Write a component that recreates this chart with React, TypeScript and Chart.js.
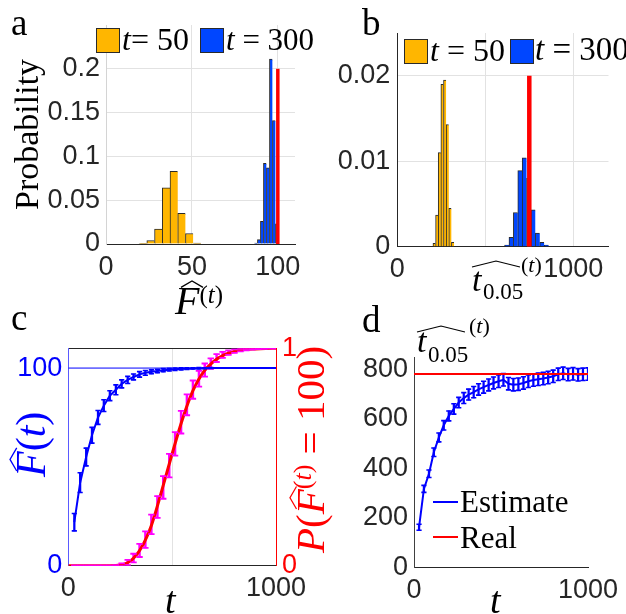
import React, { useEffect, useRef } from 'react';
import { Chart, registerables } from 'chart.js';

Chart.register(...registerables);

// ---------------- data ----------------
// panel a: histogram of F-hat
const A_T50_BINS = [21.5, 26, 30.5, 35, 39.5, 44, 48.5, 53];
const A_T50_PROB = [0.0008, 0.004, 0.017, 0.064, 0.083, 0.035, 0.012, 0.001];
const A_T300_BINS = [87.25, 89, 90.75, 92.5, 94.25, 96, 97.75, 99.5];
const A_T300_PROB = [0.001, 0.005, 0.026, 0.092, 0.087, 0.211, 0.141, 0.023];
const A_TRUE_F = 100;
const A_TRUE_H = 0.2;
const A_X_TICKS = [0, 50, 100];
const A_Y_TICKS = [0, 0.05, 0.1, 0.15, 0.2];

// panel b: histogram of t0.05-hat
const B_T50_BINS = [210, 225, 240, 255, 270, 285, 300, 315];
const B_T50_PROB = [0.0004, 0.0037, 0.011, 0.019, 0.0195, 0.0143, 0.0045, 0.0005];
const B_T300_BINS = [622, 647, 672, 697, 722, 747, 772, 797, 822, 847];
const B_T300_PROB = [0.0002, 0.0011, 0.004, 0.0089, 0.0104, 0.008, 0.0043, 0.0016, 0.0005, 0.0002];
const B_TRUE_T = 750;
const B_TRUE_H = 0.02;
const B_X_TICKS = [0, 500, 1000];
const B_Y_TICKS = [0, 0.01, 0.02];

// panels c, d: time points
const T = [29, 57, 86, 114, 143, 171, 200, 229, 257, 286, 314, 343, 371, 400, 429, 457, 486, 514, 543, 571, 600, 629, 657, 686, 714, 743, 771, 800, 829, 857, 886, 914, 943, 971, 1000];

// panel c
const C_F_MEAN = [22, 42, 55, 66, 75, 81, 86, 89, 92, 94, 95.5, 96.8, 97.6, 98.1, 98.5, 98.9, 99.2, 99.4, 99.6, 99.7, 99.8, 99.9, 99.9, 100, 100, 100, 100, 100, 100, 100, 100, 100, 100, 100, 100];
const C_F_ERR = [4.4, 5, 4.5, 4, 3.5, 3, 2.5, 2.5, 2, 1.8, 1.5, 1.4, 1.2, 1, 0.9, 0.8, 0.7, 0.6, 0.5, 0.4, 0.3, 0.3, 0.2, 0.2, 0.1, 0.1, 0, 0, 0, 0, 0, 0, 0, 0, 0];
const C_P_MEAN = [0, 0, 0, 0, 0, 0, 0, 0.001, 0.005, 0.015, 0.035, 0.07, 0.12, 0.19, 0.27, 0.36, 0.46, 0.56, 0.66, 0.74, 0.81, 0.86, 0.9, 0.93, 0.955, 0.97, 0.98, 0.987, 0.992, 0.995, 0.997, 0.998, 0.999, 1, 1];
const C_P_ERR = [0, 0, 0, 0, 0, 0, 0, 0.002, 0.006, 0.012, 0.02, 0.03, 0.038, 0.045, 0.05, 0.052, 0.054, 0.054, 0.052, 0.048, 0.042, 0.036, 0.03, 0.024, 0.018, 0.014, 0.01, 0.008, 0.006, 0.004, 0.003, 0.002, 0.001, 0, 0];
const C_CURVE_T = [0, 50, 100, 150, 200, 250, 300, 350, 400, 450, 500, 550, 600, 650, 700, 750, 800, 850, 900, 950, 1000];
const C_CURVE_P = [0, 0, 0, 0, 0, 0.003, 0.022, 0.08, 0.185, 0.345, 0.515, 0.675, 0.805, 0.89, 0.94, 0.97, 0.986, 0.994, 0.997, 0.999, 1];
const C_F_LEVEL = 100;

// panel d
const D_MEAN = [162, 317, 378, 465, 525, 574, 612, 640, 666, 684, 698, 708, 719, 728, 737, 745, 752, 758, 742, 738, 740, 745, 752, 757, 760, 763, 767, 772, 780, 784, 779, 782, 778, 780, 781];
const D_ERR = [12, 14, 15, 17, 18, 19, 20, 21, 21, 22, 22, 23, 23, 24, 24, 24, 25, 25, 25, 25, 25, 25, 25, 25, 25, 25, 25, 25, 25, 25, 25, 25, 25, 25, 25];
const D_REAL = 781;
const D_Y_TICKS = [0, 200, 400, 600, 800];

// ---------------- styles ----------------
const INK = '#262626';
const GRID = '#e2e2e2';
const EDGE = '#2a2a2a';
const YELLOW = '#ffb600';
const BLUE_BAR = '#0046ff';
const BLUE = '#0000ff';
const RED = '#ff0000';
const MAGENTA = '#ff00ff';
const TICK_FONT = { family: '"Liberation Sans", Arial, Helvetica, sans-serif', size: 27 };
const SERIF = '"Liberation Serif", "Times New Roman", serif';

function ticksAt(values: number[]) {
  return (scale: any) => {
    scale.ticks = values.map((value) => ({ value }));
  };
}
function fixWidth(w: number) {
  return (scale: any) => {
    scale.width = w;
    scale.paddingTop = 0;
    scale.paddingBottom = 0;
  };
}
function fixHeight(h: number) {
  return (scale: any) => {
    scale.height = h;
    scale.paddingLeft = 0;
    scale.paddingRight = 0;
  };
}
const gridAt = (vals: number[], color: string) => (ctx: any) =>
  ctx.tick && vals.includes(ctx.tick.value) ? color : 'rgba(0,0,0,0)';

function baseOptions(padding: any, scales: any) {
  return {
    responsive: false,
    animation: false,
    devicePixelRatio: 1,
    events: [],
    layout: { padding },
    plugins: { legend: { display: false }, tooltip: { enabled: false } },
    scales,
  };
}

function histBars(bins: number[], probs: number[], color: string, axis: string, order: number) {
  return {
    type: 'bar',
    xAxisID: axis,
    yAxisID: 'y',
    data: bins.map((x, i) => ({ x, y: probs[i] })),
    backgroundColor: color,
    borderColor: EDGE,
    borderWidth: { top: 1, left: 1, right: 0, bottom: 0 },
    borderSkipped: false,
    barPercentage: 1,
    categoryPercentage: 1,
    grouped: false,
    order,
  };
}

function errorBars(xs: number[], means: number[], errs: number[], color: string, yAxisID: string, barW: number, capR: number, capW: number, order: number) {
  return [
    {
      type: 'line',
      yAxisID,
      data: xs.flatMap((x, i) => [
        { x, y: means[i] - errs[i] },
        { x, y: means[i] + errs[i] },
      ]),
      showLine: false,
      pointStyle: 'line',
      pointRadius: capR,
      pointBorderWidth: capW,
      pointBorderColor: color,
      pointBackgroundColor: color,
      borderColor: color,
      order,
    },
    {
      type: 'bar',
      yAxisID,
      data: xs.map((x, i) => ({ x, y: [means[i] - errs[i], means[i] + errs[i]] })),
      backgroundColor: color,
      borderWidth: 0,
      barThickness: barW,
      grouped: false,
      order: order + 1,
    },
  ];
}

function histXAxis(min: number, max: number, ticks: number[], gridVals: number[], h: number, labelFn: (v: number) => string) {
  return {
    type: 'linear',
    min,
    max,
    offset: false,
    afterBuildTicks: ticksAt(ticks),
    afterFit: fixHeight(h),
    ticks: { font: TICK_FONT, color: INK, padding: 7, maxRotation: 0, autoSkip: false, callback: (v: number) => labelFn(v) },
    grid: { offset: false, drawTicks: false, color: gridAt(gridVals, GRID) },
    border: { color: INK, width: 1 },
  };
}

function makeA() {
  return {
    type: 'bar',
    data: {
      datasets: [
        { type: 'line', xAxisID: 'x', yAxisID: 'y', data: [{ x: A_TRUE_F, y: 0 }, { x: A_TRUE_F, y: A_TRUE_H }], borderColor: RED, borderWidth: 3.5, pointRadius: 0, borderCapStyle: 'butt', order: 0 },
        histBars(A_T300_BINS, A_T300_PROB, BLUE_BAR, 'xb', 1),
        histBars(A_T50_BINS, A_T50_PROB, YELLOW, 'x', 2),
      ],
    },
    options: baseOptions({ left: 0, right: 15, top: 25, bottom: 0 }, {
      x: histXAxis(0, 110, A_X_TICKS, [50, 100], 56, (v) => String(v)),
      xb: { type: 'linear', display: false, min: 0, max: 110, offset: false, afterBuildTicks: ticksAt(A_X_TICKS) },
      y: {
        min: 0, max: 0.25,
        afterBuildTicks: ticksAt(A_Y_TICKS),
        afterFit: fixWidth(106),
        ticks: { font: TICK_FONT, color: INK, padding: 6, callback: (v: number) => String(v) },
        grid: { drawTicks: false, color: gridAt([0.05, 0.1, 0.15, 0.2], GRID) },
        border: { color: '#d4d4d4', width: 1 },
      },
    }),
  };
}

function makeB() {
  return {
    type: 'bar',
    data: {
      datasets: [
        { type: 'line', xAxisID: 'x', yAxisID: 'y', data: [{ x: B_TRUE_T, y: 0 }, { x: B_TRUE_T, y: B_TRUE_H }], borderColor: RED, borderWidth: 4.5, pointRadius: 0, borderCapStyle: 'butt', order: 0 },
        histBars(B_T300_BINS, B_T300_PROB, BLUE_BAR, 'xb', 1),
        histBars(B_T50_BINS, B_T50_PROB, YELLOW, 'x', 2),
      ],
    },
    options: baseOptions({ left: 0, right: 17.5, top: 33, bottom: 0 }, {
      x: histXAxis(0, 1200, B_X_TICKS, [500, 1000], 53.3, (v) => (v === 500 ? '' : String(v))),
      xb: { type: 'linear', display: false, min: 0, max: 1200, offset: false, afterBuildTicks: ticksAt(B_X_TICKS) },
      y: {
        min: 0, max: 0.025,
        afterBuildTicks: ticksAt(B_Y_TICKS),
        afterFit: fixWidth(87.3),
        ticks: { font: TICK_FONT, color: INK, padding: 7, callback: (v: number) => String(v) },
        grid: { drawTicks: false, color: gridAt([0.01, 0.02], GRID) },
        border: { color: INK, width: 1 },
      },
    }),
  };
}

function makeC() {
  return {
    type: 'line',
    data: {
      datasets: [
        ...errorBars(T, C_F_MEAN, C_F_ERR, BLUE, 'y', 1.6, 2.6, 1.6, 0),
        { type: 'line', yAxisID: 'y', data: T.map((x, i) => ({ x, y: C_F_MEAN[i] })), borderColor: BLUE, borderWidth: 2, pointRadius: 0, order: 2 },
        ...errorBars(T, C_P_MEAN, C_P_ERR, MAGENTA, 'y2', 1.8, 3.2, 1.8, 3),
        { type: 'line', yAxisID: 'y2', data: C_CURVE_T.map((x, i) => ({ x, y: C_CURVE_P[i] })), borderColor: RED, borderWidth: 3, pointRadius: 0, cubicInterpolationMode: 'monotone', order: 3.5 },
        { type: 'line', yAxisID: 'y', data: [{ x: 0, y: C_F_LEVEL }, { x: 1000, y: C_F_LEVEL }], borderColor: BLUE, borderWidth: 1, pointRadius: 0, order: 6 },
      ],
    },
    options: baseOptions({ left: 0, right: 0, top: 48.3, bottom: 0 }, {
      x: {
        type: 'linear', min: 0, max: 1000, offset: false,
        afterBuildTicks: ticksAt([0, 500, 1000]),
        afterFit: fixHeight(48.3),
        ticks: { font: TICK_FONT, color: INK, padding: 7, maxRotation: 0, autoSkip: false, callback: (v: number) => (v === 500 ? '' : String(v)) },
        grid: { offset: false, drawTicks: false, color: gridAt([500], GRID) },
        border: { color: INK, width: 1 },
      },
      xt: {
        type: 'linear', position: 'top', min: 0, max: 1000, offset: false,
        afterFit: fixHeight(0),
        ticks: { display: false },
        grid: { drawTicks: false, color: 'rgba(0,0,0,0)' },
        border: { color: INK, width: 1 },
      },
      y: {
        type: 'linear', position: 'left', min: 0, max: 110,
        afterBuildTicks: ticksAt([0, 100]),
        afterFit: fixWidth(68.3),
        ticks: { font: TICK_FONT, color: BLUE, padding: 6 },
        grid: { drawTicks: false, color: 'rgba(0,0,0,0)' },
        border: { color: '#5a5aff', width: 1 },
      },
      y2: {
        type: 'linear', position: 'right', min: 0, max: 1,
        afterBuildTicks: ticksAt([0, 1]),
        afterFit: fixWidth(34),
        ticks: { font: TICK_FONT, color: RED, padding: 6 },
        grid: { drawTicks: false, color: 'rgba(0,0,0,0)' },
        border: { color: RED, width: 1 },
      },
    }),
  };
}

function makeD() {
  return {
    type: 'line',
    data: {
      datasets: [
        { type: 'line', yAxisID: 'y', data: [{ x: 0, y: D_REAL }, { x: 1000, y: D_REAL }], borderColor: RED, borderWidth: 2, pointRadius: 0, order: 0 },
        ...errorBars(T, D_MEAN, D_ERR, BLUE, 'y', 1.6, 2.6, 1.6, 1),
        { type: 'line', yAxisID: 'y', data: T.map((x, i) => ({ x, y: D_MEAN[i] })), borderColor: BLUE, borderWidth: 2, pointRadius: 0, order: 3 },
      ],
    },
    options: baseOptions({ left: 0, right: 38, top: 57, bottom: 0 }, {
      x: {
        type: 'linear', min: 0, max: 1000, offset: false,
        afterBuildTicks: ticksAt([0, 500, 1000]),
        afterFit: fixHeight(46.7),
        ticks: { font: TICK_FONT, color: INK, padding: 7, maxRotation: 0, autoSkip: false, callback: (v: number) => (v === 500 ? '' : String(v)) },
        grid: { offset: false, drawTicks: false, color: 'rgba(0,0,0,0)' },
        border: { color: INK, width: 1 },
      },
      y: {
        type: 'linear', min: 0, max: 850,
        afterBuildTicks: ticksAt(D_Y_TICKS),
        afterFit: fixWidth(104),
        ticks: { font: TICK_FONT, color: INK, padding: 6 },
        grid: { drawTicks: false, color: 'rgba(0,0,0,0)' },
        border: { color: '#404040', width: 1 },
      },
    }),
  };
}

// ---------------- components ----------------
function ChartCanvas({ left, top, width, height, make }: any) {
  const ref = useRef<HTMLCanvasElement>(null);
  useEffect(() => {
    const chart = new Chart(ref.current as HTMLCanvasElement, make() as any);
    return () => chart.destroy();
  }, []);
  return <canvas ref={ref} width={width} height={height} style={{ position: 'absolute', left, top, width, height }} />;
}

function Txt({ x, base, size, color = '#000', children }: any) {
  return (
    <div style={{ position: 'absolute', left: x, top: base - 0.8375 * size, fontFamily: SERIF, fontSize: size, lineHeight: 1, color, whiteSpace: 'nowrap' }}>
      {children}
    </div>
  );
}

function Rot({ x, y, size, color = '#000', children }: any) {
  return (
    <div style={{ position: 'absolute', left: x, top: y, transform: 'rotate(-90deg)', transformOrigin: '0 0', fontFamily: SERIF, fontSize: size, lineHeight: 1, color, whiteSpace: 'nowrap' }}>
      {children}
    </div>
  );
}

function Hat({ x, y, w, h, color = '#000', sw = 1.2 }: any) {
  return (
    <svg width={w} height={h} style={{ position: 'absolute', left: x, top: y, overflow: 'visible' }}>
      <polyline points={`0,${h} ${w / 2},0 ${w},${h}`} fill="none" stroke={color} strokeWidth={sw} />
    </svg>
  );
}

function FHat({ size, color = '#000' }: any) {
  const w = 0.55 * size;
  const h = 0.16 * size;
  return (
    <span style={{ position: 'relative', display: 'inline-block', fontStyle: 'italic' }}>
      F
      <svg width={w} height={h} style={{ position: 'absolute', left: 0.14 * size, top: 0.0, overflow: 'visible' }}>
        <polyline points={`0,${h} ${w / 2},0 ${w},${h}`} fill="none" stroke={color} strokeWidth={Math.max(1, size / 32)} />
      </svg>
    </span>
  );
}

function Sup({ size, raise, children }: any) {
  return <span style={{ fontSize: size, position: 'relative', top: -raise }}>{children}</span>;
}

function Box({ x, y, w, h, color }: any) {
  return <div style={{ position: 'absolute', left: x, top: y, width: w, height: h, background: color, border: `1px solid ${EDGE}`, boxSizing: 'border-box' }} />;
}

function Seg({ x, y, w, color }: any) {
  return <div style={{ position: 'absolute', left: x, top: y - 1, width: w, height: 2, background: color }} />;
}

export default function App() {
  return (
    <div style={{ position: 'absolute', left: 0, top: 0, width: 626, height: 614, overflow: 'hidden', background: '#fff' }}>
      <ChartCanvas left={0} top={0} width={310} height={300} make={makeA} />
      <ChartCanvas left={310} top={0} width={316} height={300} make={makeB} />
      <ChartCanvas left={0} top={300} width={310} height={314} make={makeC} />
      <ChartCanvas left={310} top={300} width={316} height={314} make={makeD} />

      {/* panel letters */}
      <Txt x={11} base={35} size={37}>a</Txt>
      <Txt x={362} base={35} size={37}>b</Txt>
      <Txt x={11} base={330} size={37}>c</Txt>
      <Txt x={362} base={332} size={37}>d</Txt>

      {/* panel a */}
      <Rot x={9.5} y={210} size={34}>Probability</Rot>
      <Box x={96} y={28} w={24} h={25} color={YELLOW} />
      <Txt x={122} base={49.5} size={32}><i>t</i>= 50</Txt>
      <Box x={200} y={28} w={24} h={25} color={BLUE_BAR} />
      <Txt x={226} base={49.5} size={31}><i>t</i> = 300</Txt>
      <Txt x={175} base={314} size={40}>
        <FHat size={40} />
        <Sup size={25} raise={11}>(<i>t</i>)</Sup>
      </Txt>

      {/* panel b */}
      <Box x={404} y={39} w={24} h={25} color={YELLOW} />
      <Txt x={430} base={61} size={32}><i>t</i> = 50</Txt>
      <Box x={510} y={39} w={24} h={25} color={BLUE_BAR} />
      <Txt x={535} base={61} size={33}><i>t</i> = 300</Txt>
      <Hat x={472} y={261} w={48} h={6} />
      <Txt x={472} base={291} size={34}><i>t</i></Txt>
      <Txt x={483} base={299} size={23}>0.05</Txt>
      <Txt x={521} base={272} size={22}>(<i>t</i>)</Txt>

      {/* panel c */}
      <Rot x={9.8} y={477} size={42} color={BLUE}>
        <FHat size={42} color={BLUE} />(<i>t</i>)
      </Rot>
      <Rot x={290} y={553} size={41} color={RED}>
        <i>P</i>(<FHat size={41} color={RED} />
        <Sup size={26} raise={13}>(<i>t</i>)</Sup> = 100)
      </Rot>
      <Txt x={165} base={613} size={38}><i>t</i></Txt>

      {/* panel d */}
      <Hat x={417} y={326} w={48} h={6} />
      <Txt x={417} base={352} size={34}><i>t</i></Txt>
      <Txt x={428} base={362} size={23}>0.05</Txt>
      <Txt x={469} base={333} size={22}>(<i>t</i>)</Txt>
      <Seg x={433} y={502} w={25} color={BLUE} />
      <Txt x={460} base={511.5} size={31}>Estimate</Txt>
      <Seg x={433} y={537} w={25} color={RED} />
      <Txt x={460} base={547.5} size={31}>Real</Txt>
      <Txt x={490} base={613} size={38}><i>t</i></Txt>
    </div>
  );
}
